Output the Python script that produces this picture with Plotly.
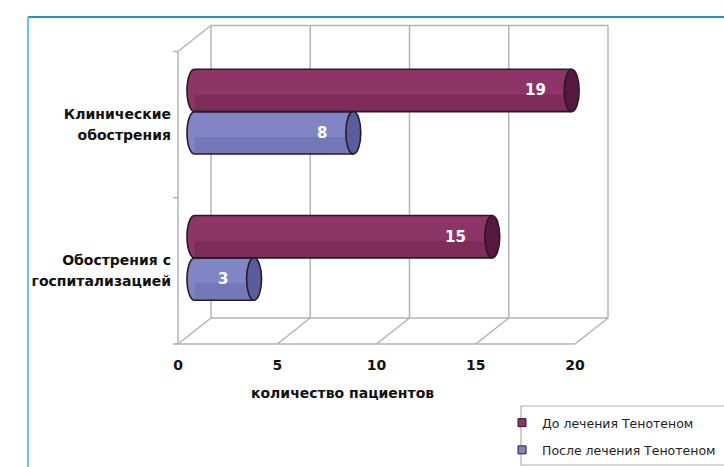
import numpy as np
import plotly.graph_objects as go

# ---------------- data ----------------
category_lines = [["Обострения с", "госпитализацией"], ["Клинические", "обострения"]]  # bottom -> top
series_names = ["До лечения Тенотеном", "После лечения Тенотеном"]
before_values = [15, 19]
after_values = [3, 8]
x_ticks = [0, 5, 10, 15, 20]
x_title = "количество пациентов"

# ---------------- style ----------------
body_colors = ["#8d3566", "#8185c6"]
shade_colors = ["rgba(60,0,40,0.16)", "rgba(30,30,90,0.13)"]
cap_colors = ["#561840", "#585d9d"]
outline = "#2a1a26"
grid_color = "#b3b3b3"
FONT = "DejaVu Sans"

W, H = 724, 467
X0_PX, X_SCALE = 194.5, 19.85      # pixel of x=0 (mid depth), px per unit
Y_MID_PX, Y_SCALE = 184.75, 146.25  # pixel of y=0.5, px per unit
x_range = [-X0_PX / X_SCALE, (W - X0_PX) / X_SCALE]
y_range = [0.5 - (H - Y_MID_PX) / Y_SCALE, 0.5 + Y_MID_PX / Y_SCALE]

DX = 16.5 / X_SCALE     # half depth offset (x units)
DY = 13.0 / Y_SCALE     # half depth offset (y units)
BAR_W = 0.29
CAP_HW = 7.5 / X_SCALE
LINE_HALF = 10.5 / Y_SCALE

positions = list(range(len(category_lines)))
series_values = [before_values, after_values]
offsets = [0.0, -BAR_W]

fig = go.Figure()
shapes = []
annotations = []

def line(x0, y0, x1, y1, color=grid_color, width=1.5, ref=("x", "y"), layer="below"):
    return dict(type="line", x0=x0, y0=y0, x1=x1, y1=y1, xref=ref[0], yref=ref[1],
                line=dict(color=color, width=width), layer=layer)

# ---- 3D frame ----
y_lo, y_hi = positions[0] - 0.5, positions[-1] + 0.5
xmax = x_ticks[-1]
# floor
shapes.append(line(-DX - 0.15, y_lo - DY, xmax - DX, y_lo - DY))
shapes.append(line(DX, y_lo + DY, xmax + DX, y_lo + DY))
for t in x_ticks:
    shapes.append(line(t - DX, y_lo - DY, t + DX, y_lo + DY))
    shapes.append(line(t + DX, y_lo + DY, t + DX, y_hi + DY))
# back wall top
shapes.append(line(DX, y_hi + DY, xmax + DX, y_hi + DY))
# left wall
shapes.append(line(-DX, y_lo - DY, -DX, y_hi - DY))
shapes.append(line(-DX, y_hi - DY, DX, y_hi + DY))
for b in np.arange(y_lo, y_hi + 0.01, 1.0):
    shapes.append(line(-DX - 0.25, b - DY, -DX, b - DY))

# ---- bars (cylinders) ----
for s, (name, vals) in enumerate(zip(series_names, series_values)):
    fig.add_trace(go.Bar(
        x=vals, y=positions, orientation="h", width=BAR_W, offset=offsets[s],
        marker=dict(color=body_colors[s], line=dict(width=0)),
        showlegend=False, hoverinfo="skip"))
    # darker lower band for cylinder shading
    fig.add_trace(go.Bar(
        x=vals, y=positions, orientation="h", width=BAR_W * 0.4, offset=offsets[s],
        marker=dict(color=shade_colors[s], line=dict(width=0)),
        showlegend=False, hoverinfo="skip"))
    fig.add_trace(go.Scatter(
        x=[None], y=[None], mode="markers", name=name, legendgroup=name,
        marker=dict(symbol="square", size=8, color=body_colors[s],
                    line=dict(color="#222", width=1))))
    for p, v in zip(positions, vals):
        y0 = p + offsets[s]
        y1 = y0 + BAR_W
        yc = (y0 + y1) / 2
        ry = BAR_W / 2
        # rounded left end fill
        shapes.append(dict(type="circle", xref="x", yref="y", x0=-CAP_HW, x1=CAP_HW,
                           y0=y0, y1=y1, fillcolor=body_colors[s],
                           line=dict(width=0), layer="below"))
        # outline of body
        t = np.linspace(0, np.pi, 25)
        ex = -CAP_HW * np.sin(t)
        ey = yc - ry * np.cos(t)
        path = f"M 0,{y1} L {v},{y1} M {v},{y0} L 0,{y0} " + " ".join(
            f"L {a:.5f},{b:.5f}" for a, b in zip(ex, ey))
        shapes.append(dict(type="path", xref="x", yref="y", path=path,
                           line=dict(color=outline, width=1.6), layer="above"))
        # end cap
        shapes.append(dict(type="circle", xref="x", yref="y", x0=v - CAP_HW, x1=v + CAP_HW,
                           y0=y0, y1=y1, fillcolor=cap_colors[s],
                           line=dict(color=outline, width=1.6), layer="above"))
        annotations.append(dict(x=v, y=yc, xref="x", yref="y", text=str(v),
                                showarrow=False, xanchor="right", xshift=-24,
                                font=dict(family=FONT, size=15, color="white", weight="bold")))

# ---- outer blue frame ----
shapes.append(line(28 / W, 1 - 17 / H, 1.01, 1 - 17 / H, color="#1f93cc", width=2,
                   ref=("paper", "paper"), layer="above"))
shapes.append(line(28 / W, 1 - 17 / H, 28 / W, -0.01, color="#69c3e8", width=2,
                   ref=("paper", "paper"), layer="above"))
# legend box
shapes.append(dict(type="rect", xref="paper", yref="paper", x0=521 / W, x1=1.02,
                   y0=1 - 465 / H, y1=1 - 406 / H, line=dict(color="#b0b0b0", width=1.2),
                   fillcolor="rgba(0,0,0,0)", layer="above"))

# x title
annotations.append(dict(x=342 / W, y=1 - 393 / H, xref="paper", yref="paper",
                        text=x_title, showarrow=False, xanchor="center", yanchor="middle",
                        font=dict(family=FONT, size=14, color="#111", weight="bold")))

# y tick labels (one tick per label line, on the front face)
y_tickvals, y_ticktext = [], []
for p, lines in zip(positions, category_lines):
    y_tickvals += [p - DY + LINE_HALF, p - DY - LINE_HALF]
    y_ticktext += lines

fig.update_layout(
    width=W, height=H, autosize=False,
    margin=dict(l=0, r=0, t=0, b=0, autoexpand=False),
    paper_bgcolor="white", plot_bgcolor="rgba(0,0,0,0)",
    barmode="overlay",
    shapes=shapes, annotations=annotations,
    xaxis=dict(range=x_range, domain=[0, 1], anchor="free", position=1 - 355 / H,
               tickvals=[t - DX for t in x_ticks], ticktext=[str(t) for t in x_ticks],
               showgrid=False, zeroline=False, showline=False, ticks="",
               tickfont=dict(family=FONT, size=14, color="#111", weight="bold"),
               fixedrange=True),
    yaxis=dict(range=y_range, domain=[0, 1], anchor="free", position=171 / W,
               tickvals=y_tickvals, ticktext=y_ticktext,
               showgrid=False, zeroline=False, showline=False, ticks="",
               tickfont=dict(family=FONT, size=14, color="#111", weight="bold"),
               fixedrange=True),
    legend=dict(x=502 / W, y=1 - 408 / H, xanchor="left", yanchor="top",
                bgcolor="rgba(0,0,0,0)", borderwidth=0, tracegroupgap=8,
                traceorder="grouped", itemclick=False,
                font=dict(family=FONT, size=12.5, color="#222")),
    showlegend=True,
)

fig.write_html("out.html")
